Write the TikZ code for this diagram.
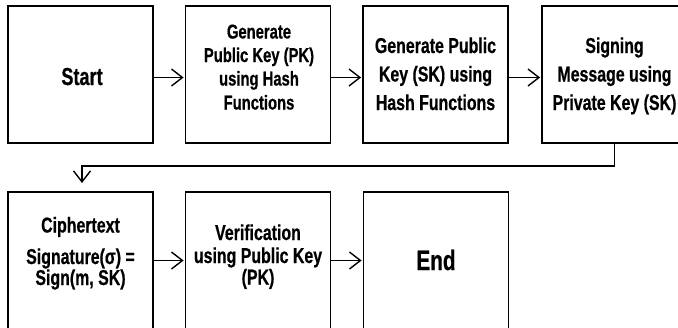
\documentclass[tikz,border=0pt]{standalone}
\usepackage{fontspec}
\setmainfont{Liberation Sans}[FakeStretch=0.74,BoldFeatures={FakeBold=0.6}]
\usetikzlibrary{arrows.meta}
\begin{document}
\begin{tikzpicture}[x=1pt,y=-1pt,
  box/.style={draw=black,line width=1.8pt,minimum width=145pt,minimum height=137pt,inner sep=0pt},
  ln/.style={anchor=base,inner sep=0pt,font=\fontsize{21.5}{26}\selectfont\bfseries},
  sm/.style={anchor=base,inner sep=0pt,font=\fontsize{20}{24}\selectfont\bfseries},
  conn/.style={line width=1.4pt,-{Straight Barb[length=11pt,width=17pt,line width=1.4pt]}}]
\useasboundingbox (0,0) rectangle (678,327);
\clip (0,0) rectangle (678,327);
\node[box] (b1) at (80.5,74.5) {};
\node[box] (b2) at (258,74.5) {};
\node[box] (b3) at (435.5,74.5) {};
\node[box] (b4) at (614.5,74.5) {};
\node[box] (b5) at (80.5,260.5) {};
\node[box] (b6) at (258,260.5) {};
\node[box] (b7) at (436,260.5) {};
\node[ln,font=\fontsize{24.5}{28}\selectfont\bfseries] (t1) at (82,85) {Start};
\node[sm] (t2a) at (259,38.5) {Generate};
\node[sm] (t2b) at (259,62) {Public Key (PK)};
\node[sm] (t2c) at (259,85.5) {using Hash};
\node[sm] (t2d) at (259,109.5) {Functions};
\node[ln] (t3a) at (435.5,53) {Generate Public};
\node[ln] (t3b) at (435.5,81.5) {Key (SK) using};
\node[ln] (t3c) at (435.5,110) {Hash Functions};
\node[ln] (t4a) at (614.5,53) {Signing};
\node[ln] (t4b) at (614.5,81.5) {Message using};
\node[ln] (t4c) at (614.5,110) {Private Key (SK)};
\node[ln] (t5a) at (80.5,232.5) {Ciphertext};
\node[ln] (t5b) at (80.5,264) {Signature(σ) =};
\node[ln] (t5c) at (80.5,285) {Sign(m, SK)};
\node[ln] (t6a) at (258,240) {Verification};
\node[ln] (t6b) at (258,263) {using Public Key};
\node[ln] (t6c) at (258,284.5) {(PK)};
\node[ln,font=\fontsize{28}{32}\selectfont\bfseries] (t7) at (436,270) {End};
\coordinate (c1) at (614.5,166);
\coordinate (c2) at (82,166);
\coordinate (c3) at (82,183);
\draw[conn] ([yshift=-3pt]b1.east) -- ([yshift=-3pt,xshift=-1pt]b2.west);
\draw[conn] ([yshift=-3pt]b2.east) -- ([yshift=-3pt,xshift=-1pt]b3.west);
\draw[conn] ([yshift=-3pt]b3.east) -- ([yshift=-3pt,xshift=-1pt]b4.west);
\draw[conn] (b4.south) -- (c1) -- (c2) -- (c3);
\draw[conn] (b5.east) -- ([xshift=-1pt]b6.west);
\draw[conn] (b6.east) -- ([xshift=-1pt]b7.west);
\end{tikzpicture}
\end{document}
